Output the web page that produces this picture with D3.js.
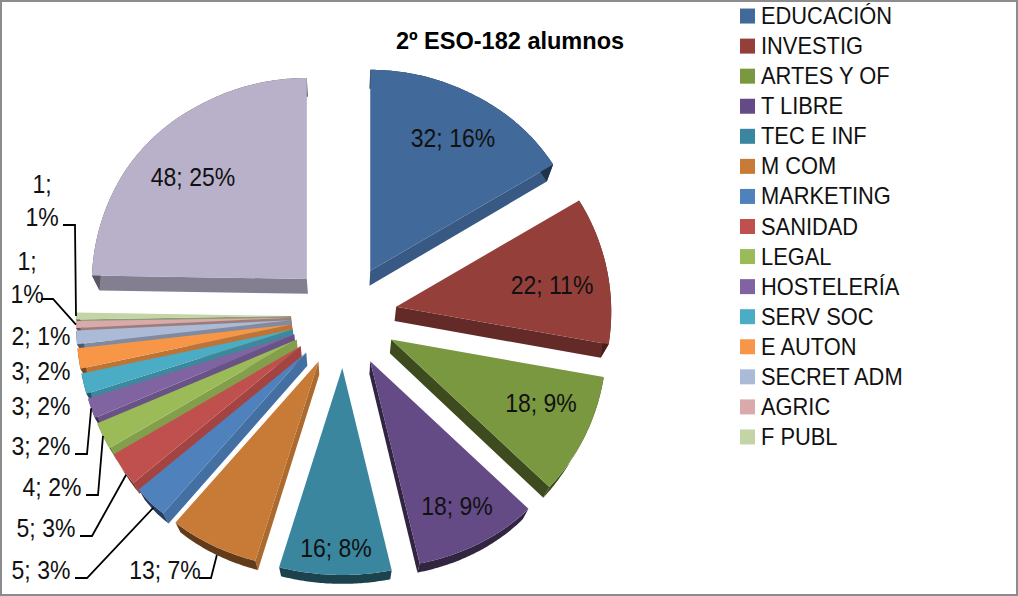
<!DOCTYPE html>
<html>
<head>
<meta charset="utf-8">
<script src="https://cdn.jsdelivr.net/npm/d3@7"></script>
<style>
html, body { margin:0; padding:0; background:#fff; }
svg { display:block; font-family:"Liberation Sans", Arial, sans-serif; }
</style>
</head>
<body>
<svg id="chart" width="1018" height="596"></svg>
<script>
const categories=['EDUCACIÓN','INVESTIG','ARTES Y OF','T LIBRE','TEC E INF','M COM','MARKETING','SANIDAD','LEGAL','HOSTELERÍA','SERV SOC','E AUTON','SECRET ADM','AGRIC','F PUBL'];
const values=[32,22,18,18,16,13,5,5,4,3,3,3,2,1,1,48];
const percents=[16,11,9,9,8,7,3,3,2,2,2,2,1,1,1,25];
const colors=['#41699a','#953f3b','#7a983f','#644b85','#3a869e','#c77b36','#4f81bd','#c0504d','#9bbb59','#8064a2','#4bacc6','#f79646','#aabad7','#d9aaa9','#c3d5a4','#b8b1c9'];

// label layout: text centre, leader = how far down the wall the line ends (0 top of rim, 1 bottom)
const labelSpots=[
  {x:453,y:138},{x:552,y:285},{x:541,y:403},{x:457,y:506},{x:336,y:548},
  {x:165,y:570,leader:1},{x:41,y:570,leader:0.5},{x:46,y:528,leader:0.5},
  {x:52,y:487,leader:0},{x:41,y:446,leader:0},{x:41,y:406},{x:41,y:371},
  {x:41,y:336},{x:27,y:280,leader:0,split:true,gap:14,ly:299},{x:42,y:203,leader:0,split:true,gap:21,ly:225},
  {x:193,y:177}
];

const W=1018, H=596;
const cx=344, cy=316, explodeX=53, explodeY=52;

// picture is in perspective: the rim is not a true ellipse
const rimX=d3.scaleLinear().domain([-1,1]).range([220,210]);
const rimY=d3.scaleLinear().domain([-1,-0.7,0.5,0.87,1]).range([207,214,209,202,201]);

const svg=d3.select('#chart');

svg.append('rect').attr('x',1).attr('y',1).attr('width',W-2).attr('height',H-2)
  .attr('fill','#fff').attr('stroke','#8c8c8c').attr('stroke-width',2);

const pie=d3.pie().sort(null).value(d=>d);
const arcs=pie(values).map((d,i)=>{
  let mid=(d.startAngle+d.endAngle)/2;
  return {i:i, start:d.startAngle, end:d.endAngle, mid:mid,
    apex:[cx+explodeX*Math.sin(mid), cy-explodeY*Math.cos(mid)]};
});

function rim(a, angle) {
  let c=Math.cos(angle);
  return [a.apex[0]+rimX(c)*Math.sin(angle), a.apex[1]-rimY(c)*c];
}
// bottom face: pulled in towards the middle, thicker higher up the picture
const dropY=d3.scaleLinear().domain([166,270,570]).range([17,15,9]);
function drop(p, k=1) { return [p[0]+(cx-p[0])*0.03*k, p[1]+dropY(p[1])*k]; }

// how much a straight wall darkens by the way it faces (degrees clockwise from up)
const wallShade=d3.scaleLinear().domain([100,150,185,225,270]).range([0.4,0.45,1,2,2]).clamp(true);

const line=d3.line().curve(d3.curveLinear);

// top slices first so the lower ones sit over their walls
const order=arcs.slice().sort((a,b)=>Math.cos(b.mid)-Math.cos(a.mid));

const g=svg.append('g');
order.forEach(a=>{
  let color=d3.color(colors[a.i]);
  let pts=d3.range(a.start,a.end,0.01).map(t=>rim(a,t));
  pts.push(rim(a,a.end));
  let first=pts[0], last=pts[pts.length-1];
  let startDeg=a.start*180/Math.PI, endDeg=a.end*180/Math.PI;
  // only the walls facing downwards can be seen
  if (startDeg>180) {
    g.append('path').attr('fill',color.darker(wallShade(startDeg-90)).formatHex())
      .attr('d',line([a.apex,first,drop(first),drop(a.apex)])+'Z');
  }
  if (endDeg<180) {
    g.append('path').attr('fill',color.darker(wallShade(endDeg+90)).formatHex())
      .attr('d',line([a.apex,last,drop(last),drop(a.apex)])+'Z');
  }
  g.append('path').attr('fill',color.darker(2).formatHex()).attr('d',line(pts.concat(pts.map(p=>drop(p)).reverse()))+'Z');
  g.append('path').attr('fill',colors[a.i]).attr('d',line([a.apex].concat(pts))+'Z');
});

// narrows text, Liberation Sans runs wider than the original face
function squeeze(sel, k) {
  sel.each(function() {
    this.setAttribute('textLength', this.getComputedTextLength()*k);
    this.setAttribute('lengthAdjust','spacingAndGlyphs');
  });
}

// data labels
const labels=svg.append('g').attr('font-size',25).attr('fill','#111').attr('text-anchor','middle');
arcs.forEach(a=>{
  let s=labelSpots[a.i];
  let v=values[a.i], p=percents[a.i];
  if (s.split) {
    labels.append('text').attr('x',s.x).attr('y',s.y-10).text(v+';');
    labels.append('text').attr('x',s.x).attr('y',s.y+23).text(p+'%');
  } else {
    labels.append('text').attr('x',s.x).attr('y',s.y+9).text(v+'; '+p+'%');
  }
  if (s.leader!==undefined) {
    let end=drop(rim(a,a.mid),s.leader);
    let right=s.x+(s.gap||34);
    let ly=s.ly||s.y+8;
    svg.append('path').attr('fill','none').attr('stroke','#000').attr('stroke-width',1.8)
      .attr('d',line([[right,ly],[right+12,ly],end]));
  }
});
squeeze(labels.selectAll('text'),0.92);

// legend
const legendY=d3.scaleBand().domain(categories).range([1,452]);
const legend=svg.append('g');
categories.forEach((c,i)=>{
  let y=legendY(c)+legendY.bandwidth()/2;
  legend.append('rect').attr('x',740).attr('y',y-7.5).attr('width',15).attr('height',15).attr('fill',colors[i]);
  legend.append('text').attr('x',761).attr('y',y+8).attr('font-size',24).attr('fill','#111').text(c);
});
squeeze(legend.selectAll('text'),0.91);

const title=svg.append('text').attr('x',510).attr('y',49).attr('text-anchor','middle')
  .attr('font-size',24).attr('font-weight','bold').attr('fill','#000').text('2º ESO-182 alumnos');
squeeze(title,0.98);
</script>
</body>
</html>
